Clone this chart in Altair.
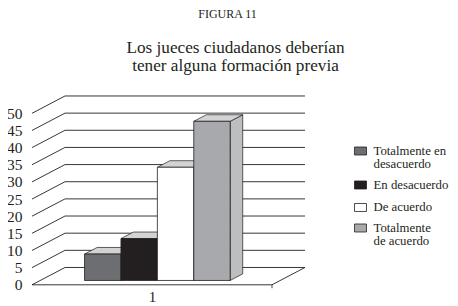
import altair as alt
import pandas as pd

# Data
legend_lines = [["Totalmente en", "desacuerdo"], ["En desacuerdo"], ["De acuerdo"], ["Totalmente", "de acuerdo"]]
series_values = [7.7, 12.2, 33.0, 46.4]
bar_colors = ["#6d6e71", "#231f20", "#ffffff", "#a7a9ac"]
y_ticks = list(range(0, 51, 5))
title_lines = ["Los jueces ciudadanos deberían", "tener alguna formación previa"]
figure_label = "FIGURA 11"
category_label = "1"

# Oblique 3-D projection: depth d (0..1) shifts x by DX and y by DV value units
DX = 33 / 240
DV = 5.05
def px(x, d): return x + d * DX
def pv(v, d): return v + d * DV

W, H = 240, 171.5
FONT = "Liberation Serif"
INK = "#231f20"
xs = alt.Scale(domain=[0, 1])
ys = alt.Scale(domain=[0, 50])
X = alt.X("x:Q", scale=xs, title=None,
          axis=alt.Axis(values=[0.5], labelExpr=f"'{category_label}'", ticks=False, domain=False, grid=False,
                        labelFont=FONT, labelFontSize=15, labelColor=INK, labelPadding=5))
Y = alt.Y("y:Q", scale=ys, title=None,
          axis=alt.Axis(values=y_ticks, domain=False, grid=False, ticks=False, labelFont=FONT, labelOverlap=False,
                        labelFontSize=15.5, labelColor=INK, labelPadding=10))

# Walls
rows = []
for i, v in enumerate(y_ticks):
    rows += [dict(g=i, o=0, x=px(0, 0), y=pv(v, 0)),
             dict(g=i, o=1, x=px(0, 1), y=pv(v, 1)),
             dict(g=i, o=2, x=px(1, 1), y=pv(v, 1))]
grid = alt.Chart(pd.DataFrame(rows)).mark_line(color=INK, strokeWidth=0.9, clip=False).encode(
    X, Y, detail="g:N", order="o:Q")

floor = alt.Chart(pd.DataFrame({"x": [px(1, 1), px(1, 0), px(0, 0)], "y": [pv(0, 1), pv(0, 0), pv(0, 0)],
                                "o": [0, 1, 2]})).mark_line(color=INK, strokeWidth=0.9).encode(X, Y, order="o:Q")
tick_end = alt.Chart(pd.DataFrame({"x": [1], "y": [0], "y2": [-1]})).mark_rule(color=INK, strokeWidth=0.8).encode(
    X, Y, y2="y2:Q")

# Bars
BAR_LEFT, BAR_W = 0.1846, 0.1517
D0, D1 = 0.25, 0.63
layers = [grid, floor, tick_end]
for i, (val, col) in enumerate(zip(series_values, bar_colors)):
    x0 = BAR_LEFT + i * BAR_W
    x1 = x0 + BAR_W
    side = pd.DataFrame({"x": [px(x1, D0), px(x1, D1)], "y": [pv(0, D0), pv(0, D1)],
                         "y2": [pv(val, D0), pv(val, D1)]})
    top = pd.DataFrame({"y": [pv(val, D0), pv(val, D1)], "x": [px(x0, D0), px(x0, D1)],
                        "x2": [px(x1, D0), px(x1, D1)]})
    front = pd.DataFrame({"x": [px(x0, D0)], "x2": [px(x1, D0)], "y": [pv(0, D0)], "y2": [pv(val, D0)]})
    layers.append(alt.Chart(side).mark_area(color="#bcbec0", stroke=INK, strokeWidth=0.7).encode(X, Y, y2="y2:Q"))
    layers.append(alt.Chart(top).mark_area(orient="horizontal", color="#d1d3d4", stroke=INK, strokeWidth=0.7)
                  .encode(X, Y, x2="x2:Q"))
    layers.append(alt.Chart(front).mark_rect(color=col, stroke=INK, strokeWidth=0.8)
                  .encode(X, Y, x2="x2:Q", y2="y2:Q"))

# Legend (pixel positions relative to the plot origin at reference (32, 113))
OX, OY = 32, 113.3
swatch_y = [151, 185, 207.5, 228]
line_y = [[151.5, 164.5], [185.5], [207.5], [228.5, 241.5]]
sw = pd.DataFrame({"x": [354.5 - OX] * 4, "x2": [366.5 - OX] * 4,
                   "y": [s - 4 - OY for s in swatch_y], "y2": [s + 4 - OY for s in swatch_y], "c": bar_colors})
layers.append(alt.Chart(sw).mark_rect(stroke=INK, strokeWidth=0.8).encode(
    x=alt.X("x:Q", scale=None), x2="x2:Q", y=alt.Y("y:Q", scale=None), y2="y2:Q",
    fill=alt.Fill("c:N", scale=None)))
lab = pd.DataFrame([{"t": t, "x": 373.5 - OX, "y": yy - OY}
                    for ls, ys_ in zip(legend_lines, line_y) for t, yy in zip(ls, ys_)])
layers.append(alt.Chart(lab).mark_text(align="left", baseline="middle", font=FONT, fontSize=12.8, color=INK).encode(
    x=alt.X("x:Q", scale=None), y=alt.Y("y:Q", scale=None), text="t:N"))

fig = pd.DataFrame({"t": [figure_label], "x": [227.5 - OX], "y": [14.5 - OY]})
layers.append(alt.Chart(fig).mark_text(align="center", baseline="middle", font=FONT, fontSize=12, color=INK).encode(
    x=alt.X("x:Q", scale=None), y=alt.Y("y:Q", scale=None), text="t:N"))

chart = alt.layer(*layers).properties(
    width=W, height=H,
    padding={"left": 24, "top": 105.3, "right": 178, "bottom": 20},
    autosize=alt.AutoSizeParams(type="none"),
    title=alt.TitleParams(text=title_lines, font=FONT, fontSize=17.2, fontWeight="normal", color=INK,
                          anchor="middle", lineHeight=18, dx=83.5, offset=0, dy=66),
).configure_view(stroke=None)

chart.save("out.html", embed_options={"renderer": "svg", "actions": False})
